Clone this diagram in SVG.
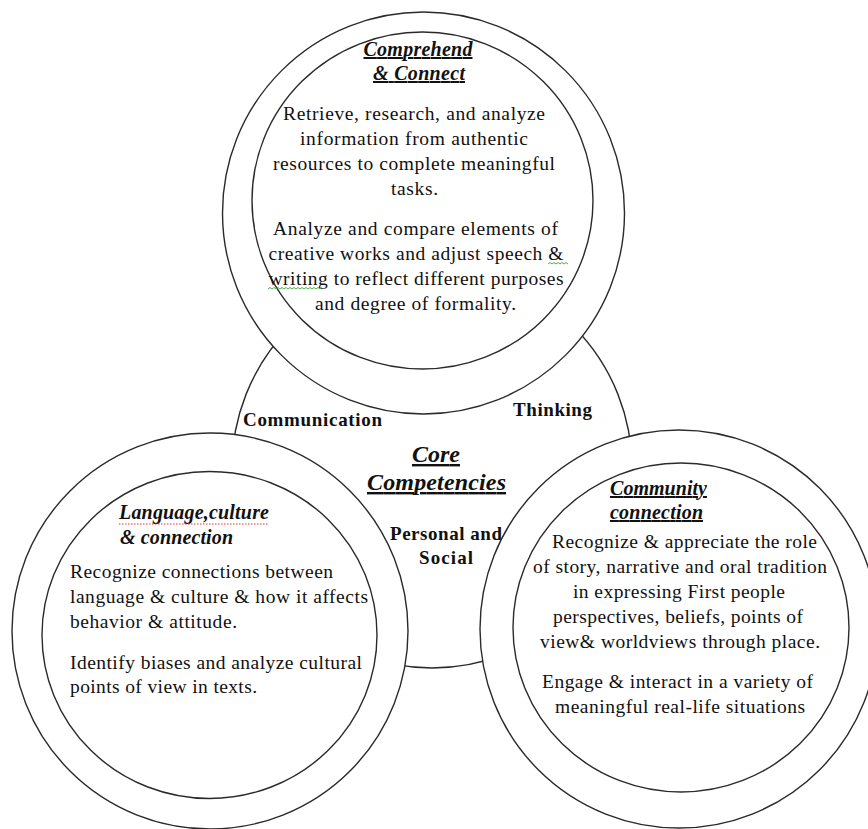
<svg xmlns="http://www.w3.org/2000/svg" width="868" height="829" viewBox="0 0 868 829">
<defs>
<style>
.ring{fill:#fff;stroke:#2a2a2a;stroke-width:1.4}
.inner{fill:none;stroke:#2a2a2a;stroke-width:1.4}
text{font-family:"Liberation Serif","Times New Roman",serif;fill:#111}
.body{font-size:19.5px}
.c{text-anchor:middle}
.head{font-size:20px;font-weight:bold;font-style:italic}
.ul{text-decoration:underline}
.lab{font-size:19px;font-weight:bold}
.big{font-size:24px;font-weight:bold;font-style:italic;text-decoration:underline}
.green{fill:none;stroke:#4caf50;stroke-width:1}
.red{fill:none;stroke:#e03030;stroke-width:1.2;stroke-dasharray:1.5 1.5}
</style>
</defs>
<rect width="868" height="829" fill="#fff"/>

<g id="core">
<circle class="ring" cx="432" cy="468" r="200"/>
<text class="lab" x="243" y="426" textLength="139" lengthAdjust="spacing">Communication</text>
<text class="lab" x="513" y="416" textLength="79" lengthAdjust="spacing">Thinking</text>
<text class="big c" x="436" y="462" textLength="48" lengthAdjust="spacing">Core</text>
<text class="big c" x="436.5" y="490" textLength="139" lengthAdjust="spacing">Competencies</text>
<text class="lab" x="390" y="540" textLength="112" lengthAdjust="spacing">Personal and</text>
<text class="lab" x="419" y="564" textLength="54" lengthAdjust="spacing">Social</text>
</g>

<g id="comprehend">
<circle class="ring" cx="423.5" cy="213" r="201"/>
<ellipse class="inner" cx="422.5" cy="200.5" rx="170.5" ry="168.5"/>
<text class="head ul c" x="418" y="56" textLength="109" lengthAdjust="spacing">Comprehend</text>
<text class="head ul c" x="419" y="80" textLength="92" lengthAdjust="spacing">&amp; Connect</text>
<text class="body c" x="414" y="120" textLength="262" lengthAdjust="spacing">Retrieve, research, and analyze</text>
<text class="body c" x="414" y="145" textLength="228" lengthAdjust="spacing">information from authentic</text>
<text class="body c" x="414" y="170" textLength="282" lengthAdjust="spacing">resources to complete meaningful</text>
<text class="body c" x="414.5" y="195" textLength="47" lengthAdjust="spacing">tasks.</text>
<text class="body c" x="415.5" y="235" textLength="285" lengthAdjust="spacing">Analyze and compare elements of</text>
<text class="body c" x="416" y="260" textLength="295" lengthAdjust="spacing">creative works and adjust speech &amp;</text>
<text class="body c" x="416" y="285" textLength="295" lengthAdjust="spacing">writing to reflect different purposes</text>
<text class="body c" x="415.5" y="310" textLength="201" lengthAdjust="spacing">and degree of formality.</text>
<polyline class="green" points="548,264 550,262.5 552,264 554,262.5 556,264 558,262.5 560,264 562,262.5 564,264 566,262.5 568,264"/>
<polyline class="green" points="268,289 270,287.5 272,289 274,287.5 276,289 278,287.5 280,289 282,287.5 284,289 286,287.5 288,289 290,287.5 292,289 294,287.5 296,289 298,287.5 300,289 302,287.5 304,289 306,287.5 308,289 310,287.5 312,289 314,287.5 316,289 318,287.5 320,289 322,287.5"/>
</g>

<g id="language">
<circle class="ring" cx="210" cy="631" r="198"/>
<ellipse class="inner" cx="209.5" cy="635" rx="167.5" ry="163.5"/>
<text class="head" x="119" y="519" textLength="150" lengthAdjust="spacing">Language,culture</text>
<line class="red" x1="119" y1="524" x2="269" y2="524"/>
<text class="head" x="120" y="544" textLength="113" lengthAdjust="spacing">&amp; connection</text>
<text class="body" x="70" y="578" textLength="263" lengthAdjust="spacing">Recognize connections between</text>
<text class="body" x="70" y="603" textLength="298" lengthAdjust="spacing">language &amp; culture &amp; how it affects</text>
<text class="body" x="70" y="628" textLength="167" lengthAdjust="spacing">behavior &amp; attitude.</text>
<text class="body" x="70" y="669" textLength="292" lengthAdjust="spacing">Identify biases and analyze cultural</text>
<text class="body" x="70" y="693" textLength="187" lengthAdjust="spacing">points of view in texts.</text>
</g>

<g id="community">
<circle class="ring" cx="679" cy="629" r="199"/>
<ellipse class="inner" cx="681" cy="627.5" rx="168" ry="164.5"/>
<text class="head ul" x="610" y="495" textLength="97" lengthAdjust="spacing">Community</text>
<text class="head ul" x="610" y="519" textLength="93" lengthAdjust="spacing">connection</text>
<text class="body c" x="684.5" y="548" textLength="265" lengthAdjust="spacing">Recognize &amp; appreciate the role</text>
<text class="body c" x="680" y="573" textLength="294" lengthAdjust="spacing">of story, narrative and oral tradition</text>
<text class="body c" x="679" y="598" textLength="212" lengthAdjust="spacing">in expressing First people</text>
<text class="body c" x="678" y="623" textLength="250" lengthAdjust="spacing">perspectives, beliefs, points of</text>
<text class="body c" x="680" y="648" textLength="280" lengthAdjust="spacing">view&amp; worldviews through place.</text>
<text class="body c" x="677.5" y="688" textLength="271" lengthAdjust="spacing">Engage &amp; interact in a variety of</text>
<text class="body c" x="680" y="713" textLength="250" lengthAdjust="spacing">meaningful real-life situations</text>
</g>

<g id="connectors"></g>
</svg>
